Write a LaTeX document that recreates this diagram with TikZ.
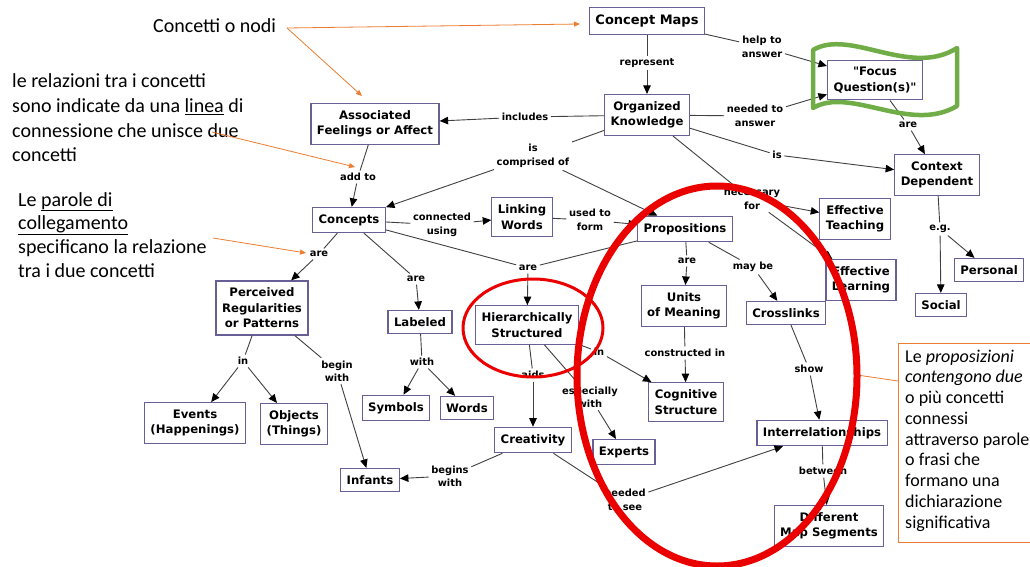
\documentclass[tikz,border=0pt]{standalone}
\usepackage{fontspec}
\newfontfamily\boxfont{DejaVu Sans}
\newfontfamily\annfont{Carlito}
\usetikzlibrary{arrows.meta}
\definecolor{boxc}{RGB}{105,95,150}
\definecolor{orng}{RGB}{237,125,49}
\definecolor{grn}{RGB}{112,173,71}
\definecolor{rd}{RGB}{235,0,0}
\tikzset{
  cbox/.style={draw=boxc, line width=1.2pt, fill=white, align=center,
    font=\boxfont\bfseries\fontsize{11.7}{15.5}\selectfont, inner xsep=6pt, inner ysep=7pt},
  lbl/.style={font=\boxfont\bfseries\fontsize{9.9}{13.5}\selectfont, align=center,
    inner sep=2.5pt, text=black},
  ln/.style={draw=black!75, line width=0.9pt},
  arr/.style={ln, -{Triangle[length=8.5pt,width=7.5pt,fill=black,color=black]}},
  oarr/.style={draw=orng, line width=0.8pt, -{Triangle[length=6pt,width=5pt]}},
  oline/.style={draw=orng, line width=0.8pt},
  ann/.style={font=\annfont\fontsize{20}{24}\selectfont, anchor=base west, inner sep=0pt},
  annr/.style={font=\annfont\fontsize{18}{21}\selectfont, anchor=base west, inner sep=0pt},
}
\begin{document}
\begin{tikzpicture}[x=1pt,y=-1pt]
\useasboundingbox (0,0) rectangle (1030,567);
\fill[white] (0,0) rectangle (1030,567);
\clip (0,0) rectangle (1030,567);

% concept boxes
\node[cbox, font=\boxfont\bfseries\fontsize{13}{15}\selectfont] (cm) at (647,21) {Concept Maps};
\node[cbox] (ok) at (647,115) {Organized\\Knowledge};
\node[cbox] (fq) at (875,80) {"Focus\\Question(s)"};
\node[cbox] (assoc) at (375,124) {Associated\\Feelings or Affect};
\node[cbox] (concepts) at (349,220) {Concepts};
\node[cbox] (lw) at (522,217) {Linking\\Words};
\node[cbox] (prop) at (685,229) {Propositions};
\node[cbox] (ctx) at (937,175) {Context\\Dependent};
\node[cbox] (eteach) at (855,219) {Effective\\Teaching};
\node[cbox] (elearn) at (861,280) {Effective\\Learning};
\node[cbox] (pers) at (989,270) {Personal};
\node[cbox] (social) at (941,305) {Social};
\node[cbox] (perc) at (262,308) {Perceived\\Regularities\\or Patterns};
\node[cbox] (labeled) at (420,322) {Labeled};
\node[cbox] (hier) at (527,325) {Hierarchically\\Structured};
\node[cbox] (units) at (684,306) {Units\\of Meaning};
\node[cbox] (cross) at (786,313) {Crosslinks};
\node[cbox] (events) at (195,423) {Events\\(Happenings)};
\node[cbox] (objects) at (294,424) {Objects\\(Things)};
\node[cbox] (symbols) at (396,408) {Symbols};
\node[cbox] (words) at (467,408) {Words};
\node[cbox] (cog) at (686,402) {Cognitive\\Structure};
\node[cbox] (creat) at (533,440) {Creativity};
\node[cbox] (experts) at (624,452) {Experts};
\node[cbox] (inter) at (822,433) {Interrelationships};
\node[cbox] (infants) at (370,480) {Infants};
\node[cbox] (diff) at (829,526) {Different\\Map Segments};

% linking phrases
\node[lbl] (lrep) at (647,63) {represent};
\node[lbl] (lhelp) at (762,47) {help to\\answer};
\node[lbl] (lneed) at (755,116) {needed to\\answer};
\node[lbl] (lincl) at (525,117) {includes};
\node[lbl] (lcomp) at (533,156) {is\\comprised of};
\node[lbl] (lis) at (777,155) {is};
\node[lbl] (lnec) at (752,200) {necessary\\for};
\node[lbl] (lfqare) at (908,125) {are};
\node[lbl] (leg) at (940,229) {e.g.};
\node[lbl] (ladd) at (358,177) {add to};
\node[lbl] (lconn) at (442,225) {connected\\using};
\node[lbl] (lused) at (590,220) {used to\\form};
\node[lbl] (lareA) at (319,254) {are};
\node[lbl] (lareB) at (416,279) {are};
\node[lbl] (lareC) at (528,268) {are};
\node[lbl] (lareD) at (687,261) {are};
\node[lbl] (lmay) at (753,267) {may be};
\node[lbl] (linA) at (243,361) {in};
\node[lbl] (lbegin) at (337,371) {begin\\with};
\node[lbl] (lwith) at (422,362) {with};
\node[lbl] (laids) at (533,375) {aids};
\node[lbl] (linB) at (599,352) {in};
\node[lbl] (lesp) at (590,397) {especially\\with};
\node[lbl] (lcons) at (685,353) {constructed in};
\node[lbl] (lshow) at (809,369) {show};
\node[lbl] (lbegins) at (450,476) {begins\\with};
\node[lbl] (lneedsee) at (625,500) {needed\\to see};
\node[lbl] (lbetw) at (823,471) {between};

% connectors
\draw[ln] (cm) -- (lrep); \draw[arr] (lrep) -- (ok);
\draw[ln] (cm) -- (lhelp); \draw[arr] (lhelp) -- (fq);
\draw[ln] (ok) -- (lneed); \draw[arr] (lneed) -- (fq);
\draw[ln] (ok) -- (lincl); \draw[arr] (lincl) -- (assoc);
\draw[ln] (ok) -- (lcomp); \draw[arr] (lcomp) -- (concepts); \draw[arr] (lcomp) -- (prop);
\draw[ln] (ok) -- (lis); \draw[arr] (lis) -- (ctx);
\draw[ln] (ok) -- (lnec); \draw[arr] (lnec) -- (eteach); \draw[arr] (lnec) -- (elearn);
\draw[ln] (fq) -- (lfqare); \draw[arr] (lfqare) -- (ctx);
\draw[ln] (ctx) -- (leg); \draw[arr] (leg) -- (pers); \draw[arr] (leg) -- (social);
\draw[ln] (assoc) -- (ladd); \draw[arr] (ladd) -- (concepts);
\draw[ln] (concepts) -- (lconn); \draw[arr] (lconn) -- (lw);
\draw[ln] (lw) -- (lused); \draw[arr] (lused) -- (prop);
\draw[ln] (concepts) -- (lareA); \draw[arr] (lareA) -- (perc);
\draw[ln] (concepts) -- (lareB); \draw[arr] (lareB) -- (labeled);
\draw[ln] (concepts) -- (lareC); \draw[ln] (prop) -- (lareC); \draw[arr] (lareC) -- (hier);
\draw[ln] (prop) -- (lareD); \draw[arr] (lareD) -- (units);
\draw[ln] (prop) -- (lmay); \draw[arr] (lmay) -- (cross);
\draw[ln] (perc) -- (linA); \draw[arr] (linA) -- (events); \draw[arr] (linA) -- (objects);
\draw[ln] (perc) -- (lbegin); \draw[arr] (lbegin) -- (infants);
\draw[ln] (labeled) -- (lwith); \draw[arr] (lwith) -- (symbols); \draw[arr] (lwith) -- (words);
\draw[ln] (hier) -- (laids); \draw[arr] (laids) -- (creat);
\draw[ln] (hier) -- (linB); \draw[arr] (linB) -- (cog);
\draw[ln] (hier) -- (lesp); \draw[arr] (lesp) -- (experts);
\draw[ln] (units) -- (lcons); \draw[arr] (lcons) -- (cog);
\draw[ln] (cross) -- (lshow); \draw[arr] (lshow) -- (inter);
\draw[ln] (creat) -- (lbegins); \draw[arr] (lbegins) -- (infants);
\draw[ln] (creat) -- (lneedsee); \draw[arr] (lneedsee) -- (inter);
\draw[ln] (inter) -- (lbetw); \draw[arr] (lbetw) -- (diff);

% annotations (left)
\node[ann] (annA) at (153,33) {Concetti o nodi};
\node[ann] (annB1) at (12,88) {le relazioni tra i concetti};
\node[ann] (annB2) at (12,112.5) {sono indicate da una \underline{linea} di};
\node[ann] (annB3) at (12,137) {connessione che unisce due};
\node[ann] (annB4) at (12,161) {concetti};
\node[ann] (annC1) at (18,206) {Le \underline{parole di}};
\node[ann] (annC2) at (18,229.5) {\underline{collegamento}};
\node[ann] (annC3) at (18,253) {specificano la relazione};
\node[ann] (annC4) at (18,277) {tra i due concetti};

\coordinate (oA) at (287,28);
\coordinate (oAend1) at (580,24);
\coordinate (oAend2) at (362,96);
\coordinate (oB) at (212,132);
\coordinate (oBend) at (355,167);
\coordinate (oC) at (213,238);
\coordinate (oCend) at (306,253);
\draw[oarr] (oA) -- (oAend1);
\draw[oarr] (oA) -- (oAend2);
\draw[oarr] (oB) -- (oBend);
\draw[oarr] (oC) -- (oCend);

% annotation box (right)
\draw[oline] (898,343) rectangle (1045,542);
\coordinate (pbox) at (898,381);
\coordinate (pell) at (857,375);
\draw[oline] (pbox) -- (pell);
\node[annr] (r1) at (905,362) {Le \textit{proposizioni}};
\node[annr] (r2) at (905,382.75) {\textit{contengono due}};
\node[annr] (r3) at (905,403.5) {o più concetti};
\node[annr] (r4) at (905,424.25) {connessi};
\node[annr] (r5) at (905,445) {attraverso parole};
\node[annr] (r6) at (905,465.75) {o frasi che};
\node[annr] (r7) at (905,486.5) {formano una};
\node[annr] (r8) at (905,507.25) {dichiarazione};
\node[annr] (r9) at (905,528) {significativa};

% highlights
\draw[grn, line width=4.5pt, line join=round]
  (813,50) .. controls (850,28) and (910,78) .. (957,48)
  -- (957,106) .. controls (910,134) and (850,86) .. (813,108) -- cycle;
\draw[rd, line width=3pt] (533,328) ellipse [x radius=70pt, y radius=49pt];
\draw[rd, line width=7pt] (717,376) ellipse [x radius=140pt, y radius=190pt];
\end{tikzpicture}
\end{document}
